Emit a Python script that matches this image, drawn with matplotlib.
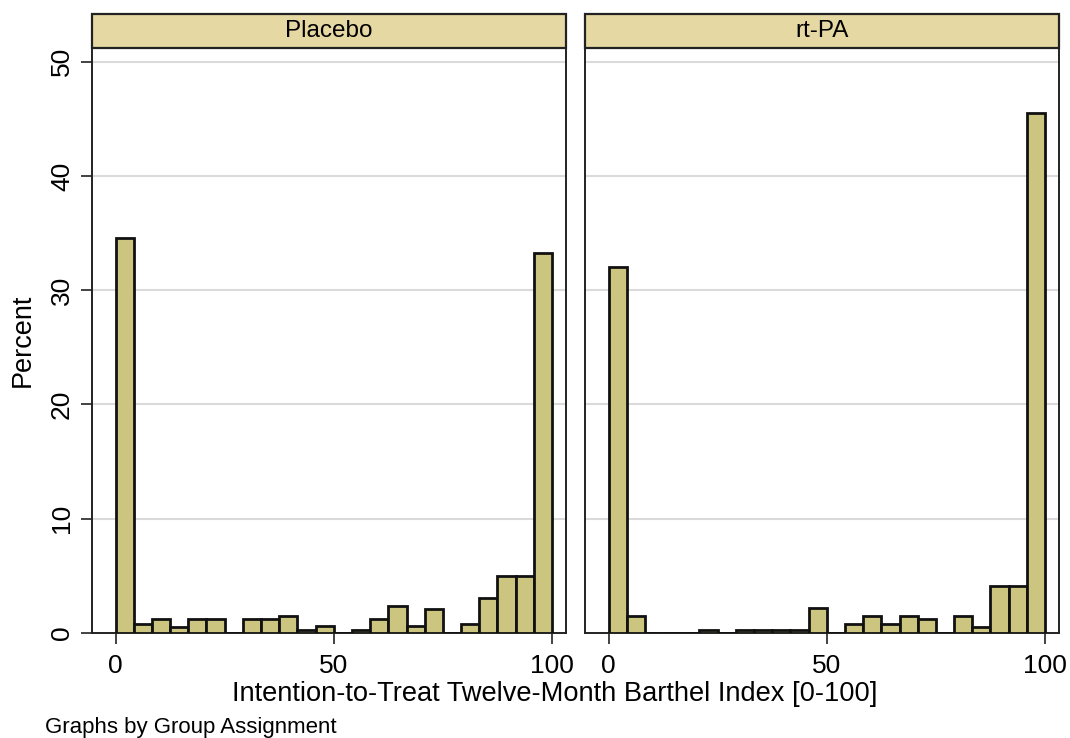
import numpy as np
import matplotlib
matplotlib.use("Agg")
import matplotlib.pyplot as plt
from matplotlib.patches import Rectangle

plt.rcParams['font.family'] = ['Liberation Sans', 'DejaVu Sans']

# Data: percent per bin (24 equal bins over 0-100)
groups = ["Placebo", "rt-PA"]
bin_edges_range = (0, 100)
n_bins = 24
placebo_pct = [34.6, 0.8, 1.2, 0.5, 1.2, 1.2, 0.0, 1.2, 1.2, 1.5, 0.25, 0.6,
               0.0, 0.25, 1.2, 2.4, 0.6, 2.1, 0.0, 0.8, 3.1, 5.0, 5.0, 33.3]
rtpa_pct = [32.0, 1.5, 0.0, 0.0, 0.0, 0.25, 0.0, 0.25, 0.25, 0.25, 0.25, 2.2,
            0.0, 0.8, 1.5, 0.8, 1.5, 1.2, 0.0, 1.5, 0.5, 4.1, 4.1, 45.5]
x_ticks = [0, 50, 100]
y_ticks = [0, 10, 20, 30, 40, 50]

series = [placebo_pct, rtpa_pct]

W, H = 1070, 738
fig = plt.figure(figsize=(W / 100, H / 100), dpi=100)

bar_color = "#CCC580"
strip_color = "#E6D8A2"

lefts = [92 / W, 585 / W]
ax_w = 474 / W
ax_b = 105 / H
ax_h = 585 / H
strip_h = 34 / H

edges = np.linspace(bin_edges_range[0], bin_edges_range[1], n_bins + 1)
width = edges[1] - edges[0]

for i, (name, vals) in enumerate(zip(groups, series)):
    ax = fig.add_axes([lefts[i], ax_b, ax_w, ax_h])
    ax.bar(edges[:-1], vals, width=width, align='edge', color=bar_color,
           edgecolor='#111111', linewidth=2.0, zorder=3)
    ax.set_xlim(-5.4, 103.2)
    ax.set_ylim(0, 51.2)
    ax.set_yticks(y_ticks)
    ax.set_xticks(x_ticks)
    for y in y_ticks[1:]:
        ax.axhline(y, color='#DADADA', linewidth=1.5, zorder=1)
    for s in ax.spines.values():
        s.set_color('#222222')
        s.set_linewidth(1.4)
    ax.tick_params(axis='x', direction='out', length=8, width=1.2, color='#222222',
                   labelsize=19, pad=7)
    if i == 0:
        ax.tick_params(axis='y', direction='out', length=8, width=1.2,
                       color='#222222', labelsize=19, pad=5)
        for lab in ax.get_yticklabels():
            lab.set_rotation(90)
            lab.set_va('center')
        ax.set_ylabel("Percent", fontsize=19.5, labelpad=10)
    else:
        ax.tick_params(axis='y', left=False, labelleft=False)
    # strip header
    fig.patches.append(Rectangle((lefts[i], ax_b + ax_h), ax_w, strip_h,
                                 transform=fig.transFigure, facecolor=strip_color,
                                 edgecolor='#222222', linewidth=1.6, zorder=5))
    fig.text(lefts[i] + ax_w / 2, ax_b + ax_h + strip_h / 2, name,
             ha='center', va='center', fontsize=17.5, zorder=6)

fig.text(555 / W, 1 - 694 / H, "Intention-to-Treat Twelve-Month Barthel Index [0-100]",
         ha='center', va='center', fontsize=19.6)
fig.text(45 / W, 1 - 727 / H, "Graphs by Group Assignment",
         ha='left', va='center', fontsize=16)

fig.savefig("out.png", dpi=100, facecolor='white')
